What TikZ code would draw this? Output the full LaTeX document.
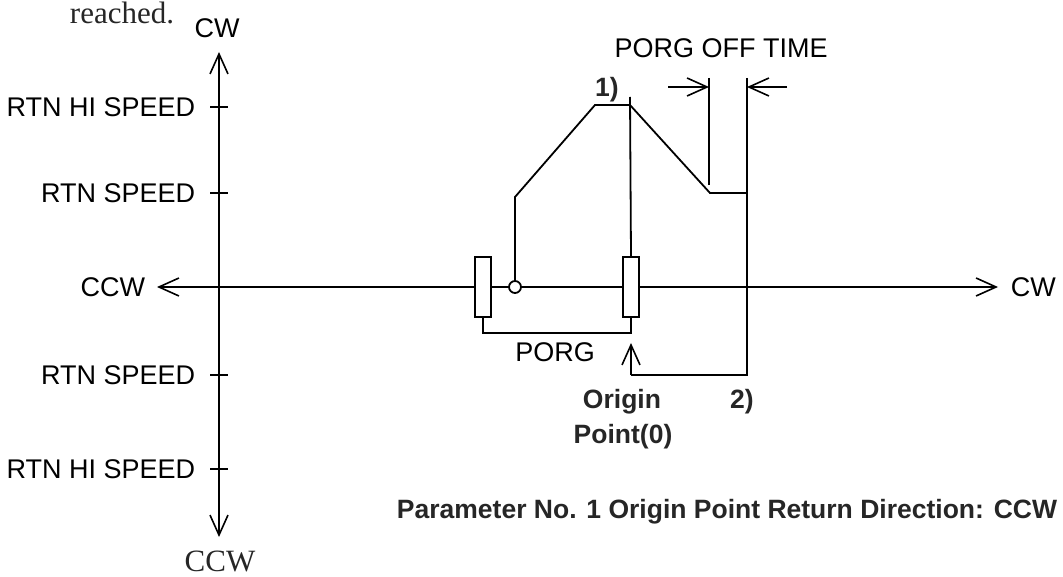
\documentclass[tikz,border=0pt]{standalone}
\usepackage{fontspec}
\setmainfont{Liberation Serif}
\setsansfont{Liberation Sans}
\usetikzlibrary{arrows.meta}
\begin{document}
\begin{tikzpicture}[x=1pt,y=-1pt,line width=1.8pt,
  barb/.style={-{Straight Barb[length=20pt,width=18pt,line width=1.6pt]}},
  lbl/.style={inner sep=0pt,font=\fontsize{27}{31}\selectfont\sffamily},
  blbl/.style={inner sep=0pt,font=\fontsize{26.5}{30}\selectfont\sffamily\bfseries,text=black!85},
  serif/.style={inner sep=0pt,font=\fontsize{31}{35}\selectfont\rmfamily,text=black!85}]
\useasboundingbox (0,0) rectangle (1063,577);
% axes
\coordinate (vtop) at (219,52);
\coordinate (vbot) at (219,537);
\coordinate (hl) at (157,287);
\coordinate (hr) at (998,287);
\draw[barb] (219,287) -- (vtop);
\draw[barb] (219,287) -- (vbot);
\draw[barb] (219,287) -- (hl);
\draw[barb] (219,287) -- (hr);
\node[lbl] (cwtop) at (217,28) {CW};
\node[serif] (ccwbot) at (220,561) {CCW};
\node[lbl,anchor=east] (ccwl) at (146,287) {CCW};
\node[lbl,anchor=west] (cwr) at (1010,287) {CW};
\node[serif,anchor=base] (reached) at (122,24) {reached.};
% ticks and speed labels
\foreach \y/\t/\n in {107/RTN HI SPEED/a,193/RTN SPEED/b,375/RTN SPEED/c,469/RTN HI SPEED/d}{
  \draw (210,\y) -- (228,\y);
  \node[lbl,anchor=east] (s\n) at (196,\y) {\t};
}
% sensor rectangles
\node[draw,minimum width=16pt,minimum height=60pt,inner sep=0pt,fill=white] (r1) at (483,287) {};
\node[draw,minimum width=16pt,minimum height=60pt,inner sep=0pt,fill=white] (r2) at (631,287) {};
\node[draw,circle,minimum size=12pt,inner sep=0pt,fill=white] (c0) at (515,287) {};
% trace
\coordinate (p1) at (515,197);
\coordinate (p2) at (595,105);
\coordinate (p3) at (630,105);
\coordinate (p4) at (710,193);
\coordinate (p5) at (747,193);
\coordinate (p6) at (747,375);
\coordinate (p7) at (631,375);
\coordinate (p8) at (631,343);
\draw[line join=miter] (c0.north) -- (p1) -- (p2) -- (p3) -- (p4) -- (p5) -- (p6) -- (p7);
\draw[barb] (p7) -- (p8);
% origin sensor line
\coordinate (q1) at (630,97);
\draw (q1) -- (r2.north);
% PORG bracket
\draw (r1.south) -- (483,333) -| (r2.south);
\node[lbl] (porg) at (555,352) {PORG};
% PORG OFF TIME
\coordinate (d1) at (709,78);
\coordinate (d1b) at (709,185);
\coordinate (d2) at (747,78);
\draw (d1) -- (d1b);
\draw (d2) -- (p5);
\coordinate (da) at (668,87);
\coordinate (db) at (709,87);
\coordinate (dc) at (787,87);
\coordinate (dd) at (747,87);
\draw[barb] (da) -- (db);
\draw[barb] (dc) -- (dd);
\node[lbl] (pot) at (721,48) {PORG OFF TIME};
% labels
\node[blbl] (one) at (607,90) {1)};
\node[blbl] (two) at (742,402) {2)};
\node[blbl] (org) at (622,402) {Origin};
\node[blbl] (pt) at (623,437) {Point(0)};
\node[blbl,anchor=east] (cap) at (1058,512) {Parameter No. 1 Origin Point Return Direction: CCW};
\end{tikzpicture}
\end{document}
